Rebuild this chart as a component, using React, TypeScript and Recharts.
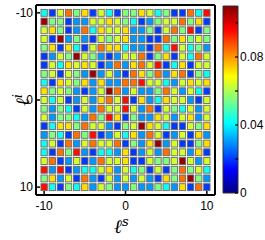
import { ScatterChart, Scatter, XAxis, YAxis, BarChart, Bar } from "recharts"

// lattice indices, both directions
const ELL = [-10, -9, -8, -7, -6, -5, -4, -3, -2, -1, 0, 1, 2, 3, 4, 5, 6, 7, 8, 9, 10]
const X_TICKS = [-10, 0, 10]
const Y_TICKS = [-10, 0, 10]
const CBAR_TICKS = [0, 0.02, 0.04, 0.06, 0.08, 0.1]
const CBAR_LABELS = [0, 0.04, 0.08]
const CBAR_MAX = 0.11

// one row per l^i (top = -10), one entry per l^s (left = -10)
const ROWS: number[][] = [
  [.043, .020, .064, .084, .055, .072, .020, .064, .043, .020, .055, .055, .072, .064, .043, .055, .020, .020, .084, .043, .095],
  [.107, .055, .055, .020, .030, .030, .064, .064, .072, .064, .055, .043, .020, .030, .055, .064, .064, .084, .055, .072, .020],
  [.064, .072, .055, .020, .030, .084, .043, .072, .064, .064, .072, .030, .030, .055, .020, .064, .084, .055, .095, .020, .055],
  [.064, .020, .107, .030, .055, .030, .020, .064, .055, .064, .072, .030, .030, .020, .020, .084, .055, .072, .055, .064, .055],
  [.055, .072, .020, .072, .043, .020, .064, .084, .072, .072, .043, .030, .030, .020, .084, .043, .095, .064, .043, .055, .030],
  [.020, .030, .064, .055, .107, .064, .055, .030, .020, .030, .064, .064, .084, .020, .055, .072, .020, .064, .043, .084, .064],
  [.020, .064, .043, .072, .064, .072, .064, .020, .030, .084, .030, .072, .084, .064, .095, .020, .043, .072, .020, .064, .064],
  [.055, .064, .020, .064, .055, .030, .107, .030, .064, .030, .020, .084, .072, .055, .084, .030, .072, .084, .020, .055, .043],
  [.043, .020, .072, .064, .055, .072, .030, .072, .030, .030, .084, .084, .095, .064, .064, .043, .030, .064, .072, .064, .072],
  [.072, .055, .064, .055, .030, .020, .030, .064, .107, .084, .030, .064, .030, .030, .055, .084, .064, .030, .064, .043, .020],
  [.064, .043, .064, .020, .030, .064, .030, .072, .084, .064, .095, .020, .072, .030, .043, .072, .064, .064, .030, .020, .064],
  [.055, .030, .055, .043, .020, .064, .030, .084, .064, .064, .095, .064, .030, .084, .020, .064, .055, .043, .064, .030, .064],
  [.064, .030, .055, .055, .043, .030, .084, .055, .095, .072, .020, .055, .030, .030, .072, .064, .030, .064, .072, .030, .064],
  [.020, .043, .072, .072, .055, .084, .064, .064, .030, .020, .055, .064, .107, .072, .064, .043, .020, .020, .064, .055, .072],
  [.030, .055, .043, .020, .084, .055, .095, .020, .030, .064, .043, .072, .030, .084, .064, .020, .030, .064, .020, .072, .030],
  [.043, .064, .020, .084, .030, .064, .084, .064, .064, .084, .020, .055, .030, .072, .107, .030, .064, .020, .020, .055, .072],
  [.043, .020, .084, .055, .095, .030, .020, .043, .043, .030, .072, .020, .030, .064, .030, .084, .064, .064, .030, .072, .020],
  [.064, .084, .020, .030, .064, .020, .030, .084, .064, .064, .072, .020, .020, .064, .055, .055, .064, .107, .064, .030, .064],
  [.095, .030, .095, .020, .030, .043, .043, .064, .072, .030, .064, .043, .055, .020, .064, .020, .055, .084, .055, .064, .043],
  [.055, .072, .030, .064, .020, .084, .030, .020, .064, .030, .064, .030, .064, .030, .020, .072, .055, .084, .107, .055, .030],
  [.095, .043, .020, .055, .043, .072, .030, .064, .055, .030, .030, .055, .030, .030, .055, .043, .030, .072, .020, .084, .020],
]

const cells = ROWS.flatMap((row, i) => row.map((v, j) => ({ x: ELL[j], y: ELL[i], v })))

// plot box: x 36..215, y 5..195
const CHART_W = 225
const CHART_H = 240
const LEFT_W = 36
const TOP_H = 5
const PLOT_W = 179
const PLOT_H = 190
const RIGHT_W = CHART_W - LEFT_W - PLOT_W
const BOTTOM_H = CHART_H - TOP_H - PLOT_H
const X_DOMAIN = [-11, 11]
const Y_DOMAIN = [-10.9, 10.9]
const CELL_W = PLOT_W / (X_DOMAIN[1] - X_DOMAIN[0])
const CELL_H = PLOT_H / (Y_DOMAIN[1] - Y_DOMAIN[0])

const FONT = "'Liberation Sans', Arial, sans-serif"

function jet(v: number) {
  const t = Math.min(1, Math.max(0, v / CBAR_MAX))
  const c = (a: number) => Math.round(255 * Math.min(1, Math.max(0, a)))
  const r = c(1.5 - Math.abs(4 * t - 3))
  const g = c(1.5 - Math.abs(4 * t - 2))
  const b = c(1.5 - Math.abs(4 * t - 1))
  return `rgb(${r},${g},${b})`
}

const JET_STOPS = [0, 0.125, 0.375, 0.625, 0.875, 1]

const CellRect = (props: any) => {
  const { cx, cy, payload } = props
  const w = CELL_W - 1.8
  const h = CELL_H - 1.8
  return (
    <rect x={cx - w / 2} y={cy - h / 2} width={w} height={h} fill={jet(payload.v)} stroke="#6a6a6a" strokeWidth={0.9} />
  )
}

const BottomTick = ({ x, y, payload }: any) => (
  <g>
    <line x1={x} x2={x} y1={y} y2={y - 4} stroke="#000" strokeWidth={1.5} />
    <text x={x} y={y + 15} textAnchor="middle" fontSize={12} fontFamily={FONT} fill="#000">{payload.value}</text>
  </g>
)
const TopTick = ({ x, y }: any) => <line x1={x} x2={x} y1={y} y2={y + 4} stroke="#000" strokeWidth={1.5} />
const LeftTick = ({ x, y, payload }: any) => (
  <g>
    <line x1={x} x2={x + 4} y1={y} y2={y} stroke="#000" strokeWidth={1.5} />
    <text x={x - 3} y={y + 4} textAnchor="end" fontSize={12} fontFamily={FONT} fill="#000">{payload.value}</text>
  </g>
)
const RightTick = ({ x, y }: any) => <line x1={x} x2={x - 4} y1={y} y2={y} stroke="#000" strokeWidth={1.5} />

const CbarRightTick = ({ x, y, payload }: any) => (
  <g>
    <line x1={x} x2={x - 3} y1={y} y2={y} stroke="#000" strokeWidth={1.2} />
    {CBAR_LABELS.includes(payload.value) && (
      <text x={x + 2} y={y + 4} textAnchor="start" fontSize={12} fontFamily={FONT} fill="#000">{payload.value}</text>
    )}
  </g>
)
const CbarLeftTick = ({ x, y }: any) => <line x1={x} x2={x + 3} y1={y} y2={y} stroke="#000" strokeWidth={1.2} />

const frame = { stroke: "#000", strokeWidth: 2 }
const axisCommon = { tickSize: 0, tickMargin: 0, tickLine: false, interval: 0 as const }

export default function App() {
  return (
    <div style={{ position: "absolute", left: 0, top: 0, width: 265, height: 240, background: "#fff" }}>
      <ScatterChart width={CHART_W} height={CHART_H} margin={{ top: 0, left: 0, right: 0, bottom: 0 }}>
        <XAxis type="number" dataKey="x" domain={X_DOMAIN} ticks={X_TICKS} height={BOTTOM_H} axisLine={frame} tick={<BottomTick />} {...axisCommon} />
        <XAxis xAxisId="top" orientation="top" type="number" dataKey="x" domain={X_DOMAIN} ticks={X_TICKS} height={TOP_H} axisLine={frame} tick={<TopTick />} {...axisCommon} />
        <YAxis type="number" dataKey="y" domain={Y_DOMAIN} ticks={Y_TICKS} reversed width={LEFT_W} axisLine={frame} tick={<LeftTick />} {...axisCommon} />
        <YAxis yAxisId="right" orientation="right" type="number" dataKey="y" domain={Y_DOMAIN} ticks={Y_TICKS} reversed width={RIGHT_W} axisLine={frame} tick={<RightTick />} {...axisCommon} />
        <Scatter data={cells} isAnimationActive={false} shape={(p: any) => <CellRect {...p} />} />
      </ScatterChart>

      <div style={{ position: "absolute", left: 215, top: 0 }}>
        <BarChart width={50} height={240} data={[{ n: "cbar", v: CBAR_MAX }]} margin={{ top: 6, left: 0, right: 0, bottom: 0 }} barCategoryGap={0}>
          <defs>
            <linearGradient id="jetGrad" x1="0" y1="1" x2="0" y2="0">
              {JET_STOPS.map((t) => (
                <stop key={t} offset={t} stopColor={jet(t * CBAR_MAX)} />
              ))}
            </linearGradient>
          </defs>
          <XAxis dataKey="n" height={47} axisLine={false} tickLine={false} tick={false} />
          <YAxis yAxisId="l" domain={[0, CBAR_MAX]} ticks={CBAR_TICKS} width={8} axisLine={false} tick={<CbarLeftTick />} {...axisCommon} />
          <YAxis yAxisId="r" orientation="right" domain={[0, CBAR_MAX]} ticks={CBAR_TICKS} width={27} axisLine={false} tick={<CbarRightTick />} {...axisCommon} />
          <Bar yAxisId="r" dataKey="v" fill="url(#jetGrad)" stroke="#333" strokeWidth={1} isAnimationActive={false} />
        </BarChart>
      </div>

      <div style={{ position: "absolute", left: 114, top: 212, fontFamily: "'DejaVu Serif', serif", fontStyle: "italic", fontSize: 19, lineHeight: "20px" }}>
        ℓ<sup style={{ fontSize: 13 }}>s</sup>
      </div>
      <div style={{ position: "absolute", left: 3, top: 90, width: 30, height: 20, textAlign: "center", transform: "rotate(-90deg)", fontFamily: "'DejaVu Serif', serif", fontStyle: "italic", fontSize: 19, lineHeight: "20px" }}>
        ℓ<sup style={{ fontSize: 13 }}>i</sup>
      </div>
    </div>
  )
}
